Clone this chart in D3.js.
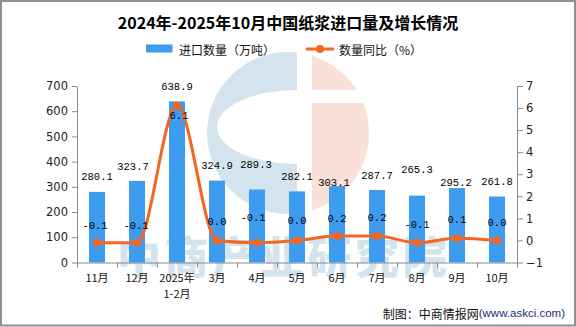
<!DOCTYPE html>
<html>
<head>
<meta charset="utf-8">
<script src="https://cdn.jsdelivr.net/npm/d3@7"></script>
<style>
  body { margin: 0; background: #fff; }
  svg { display: block; }
</style>
</head>
<body>
<svg id="chart" width="576" height="327"></svg>
<script>
// monthly pulp imports, Nov 2024 - Oct 2025
var months = ["11月", "12月", "2025年\n1-2月", "3月", "4月", "5月", "6月", "7月", "8月", "9月", "10月"];
var importVolume = [280.1, 323.7, 638.9, 324.9, 289.3, 282.1, 303.1, 287.7, 265.3, 295.2, 261.8];
var volumeYoY = [-0.1, -0.1, 6.1, 0.0, -0.1, 0.0, 0.2, 0.2, -0.1, 0.1, 0.0];
var leftTicks = [0, 100, 200, 300, 400, 500, 600, 700];
var rightTicks = [-1, 0, 1, 2, 3, 4, 5, 6, 7];

// hand nudges for value labels so they don't sit on each other
var barLabelLift = [15, 14, 14, 15, 25, 14, 3, 14, 26, 5, 14];
var barLabelShift = [0, -4, 0, 0, -1, 0, -3, 0, 0, -1, 0];
var lineLabelLift = [17, 17, -10, 18, 25, 19, 17, 18, 18, 18, 17];
var lineLabelShift = [-2, -1, 2, 0, -4, 0, 0, 0, 0, 0, 0];

var barColor = "#3d9cf0";
var lineColor = "#f5651e";
var cjk = "'Noto Sans CJK SC', sans-serif";
var mono = "'Liberation Mono', 'DejaVu Sans Mono', monospace";

var svg = d3.select("#chart");
var W = 576, H = 327;

var plotLeft = 77, plotRight = 517, plotTop = 86, plotBottom = 262.5;

var x = d3.scaleBand().domain(months).range([plotLeft, plotRight]);
var yL = d3.scaleLinear().domain([0, 700]).range([plotBottom, plotTop]);
var yR = d3.scaleLinear().domain([-1, 7]).range([plotBottom, plotTop]);
var cx = function (i) { return x(months[i]) + x.bandwidth() / 2; };

// frame
svg.append("rect")
    .attr("x", 1).attr("y", 1)
    .attr("width", W - 2).attr("height", H - 2.5)
    .attr("fill", "#fff")
    .attr("stroke", "#8f8f8f")
    .attr("stroke-width", 2);

// watermark logo + name behind the plot
var wm = svg.append("g");
var defs = svg.append("defs");
defs.append("clipPath").attr("id", "logoClip")
    .append("circle").attr("cx", 288).attr("cy", 133).attr("r", 81);
var logo = wm.append("g").attr("clip-path", "url(#logoClip)");
logo.append("rect").attr("x", 200).attr("y", 40).attr("width", 97).attr("height", 190).attr("fill", "#d3e4ee");
logo.append("ellipse").attr("cx", 297).attr("cy", 127).attr("rx", 80).attr("ry", 37).attr("fill", "#fff");
logo.append("rect").attr("x", 312).attr("y", 40).attr("width", 70).attr("height", 50).attr("fill", "#fae0d6");
logo.append("rect").attr("x", 312).attr("y", 103).attr("width", 70).attr("height", 130).attr("fill", "#fae0d6");
wm.append("text")
    .attr("x", 117).attr("y", 255)
    .attr("dominant-baseline", "central")
    .attr("font-family", cjk)
    .attr("font-weight", 900)
    .attr("font-size", 44)
    .attr("letter-spacing", 3.6)
    .attr("fill", "#d3e4ee")
    .text("中商产业研究院");

// title
svg.append("text")
    .attr("x", 288).attr("y", 22)
    .attr("text-anchor", "middle")
    .attr("dominant-baseline", "central")
    .attr("font-family", cjk)
    .attr("font-weight", "bold")
    .attr("font-size", 16)
    .attr("fill", "#000")
    .text("2024年-2025年10月中国纸浆进口量及增长情况");

// legend
var lg = svg.append("g").attr("font-family", cjk).attr("font-size", 12).attr("fill", "#111");
lg.append("rect").attr("x", 146).attr("y", 44.5).attr("width", 26.5).attr("height", 8).attr("fill", barColor);
lg.append("text").attr("x", 179).attr("y", 49).attr("dominant-baseline", "central").text("进口数量（万吨）");
lg.append("line").attr("x1", 306).attr("x2", 334).attr("y1", 49).attr("y2", 49)
    .attr("stroke", lineColor).attr("stroke-width", 3);
lg.append("circle").attr("cx", 320).attr("cy", 49).attr("r", 4).attr("fill", lineColor);
lg.append("text").attr("x", 339).attr("y", 49).attr("dominant-baseline", "central").text("数量同比（%）");

// axes
function styleAxis(g) {
    g.selectAll("path, line").attr("stroke", "#8a8a8a");
    g.selectAll("text").attr("fill", "#222")
        .attr("font-family", "'DejaVu Sans', sans-serif")
        .attr("font-size", 11.5);
}

svg.append("g")
    .attr("transform", "translate(" + plotLeft + ",0)")
    .call(d3.axisLeft(yL).tickValues(leftTicks).tickSize(5).tickSizeOuter(0).tickPadding(4))
    .call(styleAxis);

svg.append("g")
    .attr("transform", "translate(" + plotRight + ",0)")
    .call(d3.axisRight(yR).tickValues(rightTicks).tickSize(6).tickSizeOuter(0).tickPadding(3))
    .call(styleAxis);

// category axis: tick marks sit on band edges
var edges = d3.range(months.length + 1);
var xEdge = d3.scaleLinear().domain([0, months.length]).range([plotLeft, plotRight]);
svg.append("g")
    .attr("transform", "translate(0," + plotBottom + ")")
    .call(d3.axisBottom(xEdge).tickValues(edges).tickFormat("").tickSize(5).tickSizeOuter(0))
    .call(styleAxis);

var xLabels = svg.append("g")
    .attr("font-family", cjk)
    .attr("font-size", 11)
    .attr("fill", "#111")
    .attr("text-anchor", "middle");
months.forEach(function (m, i) {
    var t = xLabels.append("text").attr("x", cx(i)).attr("y", 277).attr("dominant-baseline", "central");
    m.split("\n").forEach(function (part, k) {
        t.append("tspan").attr("x", cx(i)).attr("dy", k === 0 ? 0 : 16).text(part);
    });
});

// bars
var barW = 16;
svg.append("g").selectAll("rect")
    .data(importVolume)
    .join("rect")
    .attr("x", function (d, i) { return cx(i) - barW / 2; })
    .attr("y", function (d) { return yL(d); })
    .attr("width", barW)
    .attr("height", function (d) { return yL(0) - yL(d); })
    .attr("fill", barColor);

// YoY line
var line = d3.line()
    .x(function (d, i) { return cx(i); })
    .y(function (d) { return yR(d); })
    .curve(d3.curveMonotoneX);

svg.append("path")
    .datum(volumeYoY)
    .attr("d", line)
    .attr("fill", "none")
    .attr("stroke", lineColor)
    .attr("stroke-width", 3);

svg.append("g").selectAll("circle")
    .data(volumeYoY)
    .join("circle")
    .attr("cx", function (d, i) { return cx(i); })
    .attr("cy", function (d) { return yR(d); })
    .attr("r", 4)
    .attr("fill", lineColor);

// value labels
var labels = svg.append("g")
    .attr("font-family", mono)
    .attr("font-size", 10.5)
    .attr("fill", "#000")
    .attr("text-anchor", "middle")
    .attr("dominant-baseline", "central");

importVolume.forEach(function (v, i) {
    labels.append("text")
        .attr("x", cx(i) + barLabelShift[i])
        .attr("y", yL(v) - barLabelLift[i])
        .text(v.toFixed(1));
});

volumeYoY.forEach(function (v, i) {
    labels.append("text")
        .attr("x", cx(i) + lineLabelShift[i])
        .attr("y", yR(v) - lineLabelLift[i])
        .text(v.toFixed(1));
});

// source note
var note = svg.append("text")
    .attr("x", 565).attr("y", 313)
    .attr("text-anchor", "end")
    .attr("dominant-baseline", "central");
note.append("tspan")
    .attr("font-family", cjk).attr("font-size", 12).attr("fill", "#111")
    .text("制图：中商情报网");
note.append("tspan")
    .attr("font-family", "'Liberation Sans', sans-serif").attr("font-size", 11.5).attr("fill", "#1b2f7a")
    .text("(www.askci.com)");
</script>
</body>
</html>
